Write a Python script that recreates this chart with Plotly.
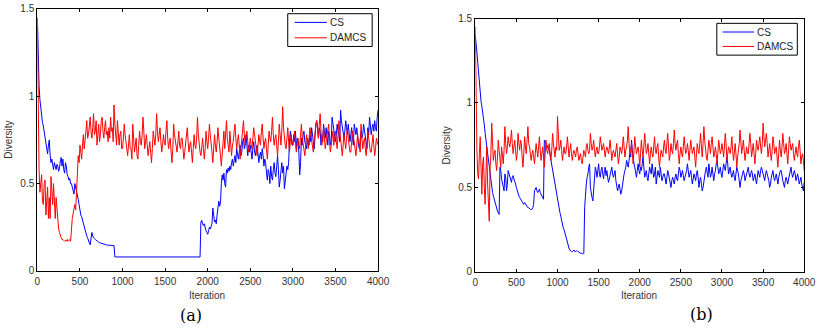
import plotly.graph_objects as go

# iteration grid (every 10 iterations, 0..4000)
iterations = list(range(0, 4001, 10))

cs_a = [
    1.45, 1.20, 1.06, 0.98, 0.92, 0.88, 0.85, 0.83, 0.80, 0.77, 0.74, 0.70, 0.67, 0.72, 0.75, 0.66, 0.62, 0.64, 0.60, 0.58,
    0.62, 0.59, 0.58, 0.61, 0.60, 0.57, 0.59, 0.63, 0.65, 0.60, 0.64, 0.58, 0.56, 0.62, 0.60, 0.55, 0.54, 0.52, 0.53, 0.50,
    0.50, 0.48, 0.46, 0.44, 0.50, 0.48, 0.45, 0.43, 0.41, 0.38, 0.34, 0.32, 0.31, 0.29, 0.27, 0.25, 0.23, 0.22, 0.20, 0.19,
    0.17, 0.16, 0.15, 0.21, 0.22, 0.20, 0.19, 0.185, 0.18, 0.175, 0.17, 0.168, 0.165, 0.162, 0.16, 0.158, 0.155, 0.153, 0.152, 0.15,
    0.15, 0.149, 0.148, 0.148, 0.147, 0.147, 0.146, 0.146, 0.145, 0.145, 0.145, 0.08, 0.08, 0.08, 0.08, 0.08, 0.08, 0.08, 0.08, 0.08,
    0.08, 0.08, 0.08, 0.08, 0.08, 0.08, 0.08, 0.08, 0.08, 0.08, 0.08, 0.08, 0.08, 0.08, 0.08, 0.08, 0.08, 0.08, 0.08, 0.08,
    0.08, 0.08, 0.08, 0.08, 0.08, 0.08, 0.08, 0.08, 0.08, 0.08, 0.08, 0.08, 0.08, 0.08, 0.08, 0.08, 0.08, 0.08, 0.08, 0.08,
    0.08, 0.08, 0.08, 0.08, 0.08, 0.08, 0.08, 0.08, 0.08, 0.08, 0.08, 0.08, 0.08, 0.08, 0.08, 0.08, 0.08, 0.08, 0.08, 0.08,
    0.08, 0.08, 0.08, 0.08, 0.08, 0.08, 0.08, 0.08, 0.08, 0.08, 0.08, 0.08, 0.08, 0.08, 0.08, 0.08, 0.08, 0.08, 0.08, 0.08,
    0.08, 0.08, 0.08, 0.08, 0.08, 0.08, 0.08, 0.08, 0.08, 0.08, 0.08, 0.08, 0.28, 0.29, 0.27, 0.26, 0.27, 0.24, 0.23, 0.22,
    0.21, 0.23, 0.25, 0.24, 0.26, 0.27, 0.36, 0.30, 0.28, 0.29, 0.27, 0.32, 0.38, 0.40, 0.37, 0.39, 0.50, 0.55, 0.52, 0.56,
    0.50, 0.48, 0.58, 0.56, 0.59, 0.57, 0.60, 0.58, 0.62, 0.64, 0.60, 0.63, 0.66, 0.62, 0.70, 0.67, 0.64, 0.68, 0.72, 0.66,
    0.68, 0.74, 0.76, 0.70, 0.72, 0.78, 0.70, 0.66, 0.72, 0.68, 0.72, 0.66, 0.64, 0.70, 0.74, 0.68, 0.66, 0.70, 0.72, 0.67,
    0.62, 0.66, 0.68, 0.64, 0.70, 0.66, 0.60, 0.64, 0.62, 0.56, 0.52, 0.58, 0.56, 0.50, 0.60, 0.54, 0.52, 0.58, 0.62, 0.56,
    0.54, 0.60, 0.66, 0.58, 0.48, 0.52, 0.58, 0.62, 0.56, 0.60, 0.47, 0.52, 0.56, 0.60, 0.58, 0.62, 0.74, 0.80, 0.76, 0.72,
    0.72, 0.78, 0.74, 0.80, 0.70, 0.76, 0.74, 0.68, 0.55, 0.62, 0.76, 0.72, 0.78, 0.80, 0.74, 0.72, 0.70, 0.76, 0.74, 0.72,
    0.78, 0.74, 0.82, 0.76, 0.74, 0.70, 0.80, 0.84, 0.86, 0.78, 0.76, 0.82, 0.80, 0.72, 0.78, 0.74, 0.84, 0.80, 0.76, 0.82,
    0.76, 0.72, 0.80, 0.78, 0.72, 0.74, 0.88, 0.84, 0.80, 0.76, 0.74, 0.78, 0.84, 0.80, 0.78, 0.74, 0.92, 0.86, 0.82, 0.78,
    0.76, 0.80, 0.86, 0.82, 0.78, 0.84, 0.80, 0.74, 0.78, 0.82, 0.76, 0.72, 0.84, 0.80, 0.78, 0.82, 0.76, 0.72, 0.70, 0.74,
    0.80, 0.76, 0.78, 0.84, 0.80, 0.78, 0.74, 0.70, 0.82, 0.78, 0.88, 0.84, 0.78, 0.82, 0.84, 0.80, 0.86, 0.82, 0.80, 0.88,
    0.92,
]

damcs_a = [
    1.40, 0.70, 0.58, 0.45, 0.52, 0.55, 0.40, 0.38, 0.50, 0.52, 0.32, 0.44, 0.48, 0.30, 0.42, 0.30, 0.54, 0.46, 0.38, 0.50,
    0.36, 0.30, 0.42, 0.34, 0.26, 0.24, 0.22, 0.20, 0.19, 0.18, 0.18, 0.175, 0.17, 0.175, 0.17, 0.18, 0.17, 0.175, 0.18, 0.17,
    0.27, 0.30, 0.33, 0.36, 0.38, 0.35, 0.46, 0.52, 0.66, 0.62, 0.72, 0.68, 0.64, 0.72, 0.78, 0.70, 0.74, 0.80, 0.86, 0.76,
    0.78, 0.84, 0.88, 0.80, 0.76, 0.82, 0.90, 0.78, 0.80, 0.86, 0.72, 0.78, 0.84, 0.74, 0.78, 0.86, 0.88, 0.80, 0.76, 0.82,
    0.86, 0.78, 0.80, 0.74, 0.82, 0.76, 0.88, 0.80, 0.82, 0.74, 0.95, 0.84, 0.78, 0.72, 0.86, 0.80, 0.72, 0.78, 0.80, 0.70,
    0.70, 0.76, 0.84, 0.78, 0.74, 0.68, 0.66, 0.72, 0.78, 0.70, 0.70, 0.64, 0.84, 0.76, 0.68, 0.72, 0.76, 0.66, 0.64, 0.72,
    0.80, 0.74, 0.72, 0.78, 0.88, 0.80, 0.70, 0.74, 0.78, 0.72, 0.66, 0.70, 0.74, 0.68, 0.62, 0.70, 0.80, 0.76, 0.72, 0.78,
    0.90, 0.80, 0.74, 0.78, 0.82, 0.74, 0.68, 0.72, 0.78, 0.74, 0.72, 0.80, 0.86, 0.76, 0.70, 0.74, 0.76, 0.68, 0.62, 0.70,
    0.84, 0.78, 0.74, 0.70, 0.68, 0.74, 0.80, 0.72, 0.70, 0.76, 0.76, 0.70, 0.64, 0.68, 0.72, 0.78, 0.82, 0.74, 0.68, 0.72,
    0.74, 0.68, 0.62, 0.70, 0.78, 0.72, 0.70, 0.76, 0.88, 0.78, 0.72, 0.68, 0.66, 0.72, 0.76, 0.70, 0.64, 0.70, 0.80, 0.74,
    0.70, 0.76, 0.84, 0.78, 0.74, 0.68, 0.62, 0.70, 0.78, 0.72, 0.68, 0.74, 0.82, 0.76, 0.72, 0.66, 0.60, 0.68, 0.76, 0.80,
    0.70, 0.78, 0.86, 0.76, 0.72, 0.68, 0.80, 0.74, 0.66, 0.72, 0.74, 0.80, 0.84, 0.76, 0.70, 0.74, 0.78, 0.72, 0.64, 0.70,
    0.76, 0.80, 0.86, 0.78, 0.72, 0.76, 0.80, 0.74, 0.68, 0.72, 0.76, 0.72, 0.70, 0.76, 0.82, 0.78, 0.74, 0.70, 0.66, 0.72,
    0.78, 0.74, 0.72, 0.80, 0.84, 0.76, 0.70, 0.74, 0.76, 0.70, 0.64, 0.72, 0.80, 0.76, 0.74, 0.80, 0.88, 0.78, 0.72, 0.76,
    0.78, 0.72, 0.66, 0.74, 0.84, 0.78, 0.72, 0.80, 0.94, 0.82, 0.76, 0.72, 0.70, 0.76, 0.82, 0.74, 0.68, 0.74, 0.78, 0.74,
    0.72, 0.76, 0.80, 0.74, 0.68, 0.72, 0.76, 0.72, 0.70, 0.78, 0.84, 0.76, 0.72, 0.68, 0.66, 0.72, 0.78, 0.74, 0.70, 0.76,
    0.82, 0.78, 0.74, 0.70, 0.68, 0.74, 0.80, 0.84, 0.86, 0.80, 0.76, 0.84, 0.90, 0.80, 0.72, 0.76, 0.82, 0.76, 0.70, 0.74,
    0.78, 0.82, 0.84, 0.74, 0.68, 0.72, 0.76, 0.80, 0.72, 0.76, 0.80, 0.74, 0.70, 0.78, 0.86, 0.80, 0.74, 0.70, 0.66, 0.72,
    0.78, 0.74, 0.70, 0.76, 0.82, 0.76, 0.72, 0.68, 0.68, 0.74, 0.80, 0.76, 0.74, 0.70, 0.66, 0.72, 0.78, 0.74, 0.72, 0.68,
    0.84, 0.76, 0.70, 0.74, 0.76, 0.70, 0.66, 0.72, 0.80, 0.76, 0.72, 0.68, 0.68, 0.74, 0.78, 0.72, 0.66, 0.70, 0.76, 0.74,
    0.72,
]

cs_b = [
    1.40, 1.36, 1.30, 1.24, 1.18, 1.10, 1.05, 1.01, 0.98, 0.95, 0.92, 0.87, 0.82, 0.78, 0.74, 0.70, 0.66, 0.62, 0.57, 0.53,
    0.50, 0.47, 0.45, 0.43, 0.41, 0.39, 0.38, 0.36, 0.35, 0.34, 0.62, 0.60, 0.55, 0.52, 0.50, 0.48, 0.58, 0.56, 0.48, 0.52,
    0.60, 0.58, 0.56, 0.54, 0.53, 0.56, 0.57, 0.55, 0.54, 0.52, 0.50, 0.48, 0.46, 0.45, 0.44, 0.43, 0.42, 0.41, 0.40, 0.40,
    0.41, 0.40, 0.39, 0.39, 0.38, 0.38, 0.37, 0.37, 0.37, 0.37, 0.38, 0.40, 0.48, 0.49, 0.50, 0.48, 0.47, 0.48, 0.49, 0.47,
    0.46, 0.45, 0.44, 0.43, 0.78, 0.77, 0.76, 0.75, 0.74, 0.73, 0.72, 0.69, 0.66, 0.63, 0.60, 0.57, 0.54, 0.51, 0.48, 0.45,
    0.42, 0.40, 0.38, 0.35, 0.33, 0.30, 0.28, 0.26, 0.25, 0.23, 0.21, 0.19, 0.17, 0.155, 0.14, 0.13, 0.12, 0.12, 0.12, 0.125,
    0.13, 0.12, 0.12, 0.125, 0.125, 0.12, 0.115, 0.115, 0.11, 0.11, 0.11, 0.105, 0.11, 0.38, 0.48, 0.52, 0.56, 0.58, 0.62, 0.64,
    0.50, 0.46, 0.44, 0.42, 0.50, 0.58, 0.62, 0.60, 0.56, 0.60, 0.64, 0.58, 0.56, 0.60, 0.62, 0.58, 0.55, 0.60, 0.62, 0.57,
    0.60, 0.56, 0.53, 0.55, 0.58, 0.60, 0.62, 0.58, 0.56, 0.58, 0.60, 0.54, 0.50, 0.48, 0.50, 0.52, 0.49, 0.46, 0.48, 0.52,
    0.54, 0.58, 0.60, 0.62, 0.66, 0.64, 0.62, 0.66, 0.70, 0.68, 0.78, 0.72, 0.66, 0.64, 0.62, 0.58, 0.56, 0.60, 0.64, 0.60,
    0.58, 0.62, 0.60, 0.64, 0.68, 0.62, 0.56, 0.58, 0.60, 0.56, 0.54, 0.58, 0.62, 0.60, 0.58, 0.64, 0.60, 0.56, 0.58, 0.62,
    0.52, 0.56, 0.60, 0.58, 0.56, 0.62, 0.58, 0.54, 0.56, 0.58, 0.58, 0.54, 0.52, 0.56, 0.60, 0.58, 0.55, 0.52, 0.50, 0.54,
    0.56, 0.54, 0.52, 0.56, 0.58, 0.55, 0.54, 0.58, 0.62, 0.60, 0.56, 0.58, 0.60, 0.57, 0.54, 0.56, 0.58, 0.60, 0.64, 0.60,
    0.56, 0.58, 0.60, 0.56, 0.52, 0.55, 0.58, 0.56, 0.54, 0.58, 0.60, 0.56, 0.50, 0.54, 0.56, 0.52, 0.48, 0.50, 0.54, 0.56,
    0.60, 0.62, 0.58, 0.56, 0.64, 0.60, 0.56, 0.58, 0.62, 0.58, 0.54, 0.58, 0.60, 0.64, 0.66, 0.62, 0.58, 0.60, 0.62, 0.58,
    0.56, 0.60, 0.64, 0.62, 0.60, 0.64, 0.68, 0.64, 0.58, 0.60, 0.62, 0.58, 0.56, 0.58, 0.60, 0.56, 0.54, 0.58, 0.62, 0.60,
    0.58, 0.54, 0.50, 0.54, 0.56, 0.58, 0.60, 0.58, 0.54, 0.56, 0.58, 0.60, 0.62, 0.58, 0.56, 0.58, 0.60, 0.58, 0.54, 0.56,
    0.58, 0.55, 0.52, 0.56, 0.60, 0.58, 0.56, 0.60, 0.62, 0.60, 0.58, 0.56, 0.54, 0.58, 0.60, 0.58, 0.56, 0.54, 0.50, 0.52,
    0.56, 0.58, 0.60, 0.56, 0.54, 0.56, 0.58, 0.55, 0.52, 0.56, 0.58, 0.60, 0.60, 0.56, 0.54, 0.52, 0.50, 0.54, 0.56, 0.54,
    0.52, 0.55, 0.58, 0.60, 0.62, 0.58, 0.56, 0.58, 0.60, 0.58, 0.54, 0.56, 0.58, 0.55, 0.52, 0.54, 0.56, 0.52, 0.50, 0.48,
    0.53,
]

damcs_b = [
    1.45, 0.90, 0.72, 0.58, 0.55, 0.70, 0.80, 0.62, 0.46, 0.64, 0.68, 0.50, 0.40, 0.58, 0.74, 0.52, 0.36, 0.30, 0.62, 0.70,
    0.88, 0.74, 0.66, 0.70, 0.72, 0.64, 0.60, 0.68, 0.78, 0.72, 0.68, 0.62, 0.74, 0.70, 0.64, 0.72, 0.86, 0.76, 0.70, 0.74,
    0.80, 0.76, 0.74, 0.78, 0.84, 0.76, 0.70, 0.74, 0.78, 0.72, 0.66, 0.70, 0.82, 0.76, 0.72, 0.78, 0.76, 0.68, 0.62, 0.70,
    0.80, 0.74, 0.70, 0.78, 0.86, 0.76, 0.74, 0.70, 0.66, 0.70, 0.72, 0.68, 0.64, 0.70, 0.76, 0.72, 0.68, 0.74, 0.80, 0.72,
    0.66, 0.70, 0.74, 0.68, 0.62, 0.70, 0.78, 0.72, 0.70, 0.74, 0.76, 0.70, 0.66, 0.72, 0.82, 0.76, 0.70, 0.68, 0.74, 0.72,
    0.92, 0.80, 0.72, 0.74, 0.78, 0.72, 0.66, 0.70, 0.74, 0.70, 0.70, 0.74, 0.80, 0.74, 0.68, 0.72, 0.76, 0.70, 0.66, 0.70,
    0.72, 0.70, 0.68, 0.72, 0.74, 0.70, 0.66, 0.68, 0.70, 0.66, 0.64, 0.68, 0.72, 0.70, 0.68, 0.74, 0.76, 0.72, 0.70, 0.72,
    0.82, 0.76, 0.72, 0.74, 0.78, 0.72, 0.68, 0.72, 0.74, 0.70, 0.70, 0.74, 0.80, 0.76, 0.72, 0.74, 0.76, 0.72, 0.68, 0.72,
    0.74, 0.72, 0.70, 0.74, 0.78, 0.72, 0.66, 0.70, 0.72, 0.70, 0.68, 0.72, 0.76, 0.70, 0.64, 0.68, 0.74, 0.72, 0.70, 0.74,
    0.80, 0.74, 0.68, 0.72, 0.74, 0.78, 0.86, 0.76, 0.70, 0.72, 0.76, 0.70, 0.64, 0.72, 0.80, 0.74, 0.70, 0.72, 0.74, 0.70,
    0.62, 0.70, 0.78, 0.72, 0.68, 0.74, 0.82, 0.76, 0.70, 0.72, 0.76, 0.70, 0.64, 0.70, 0.74, 0.70, 0.68, 0.74, 0.80, 0.72,
    0.70, 0.74, 0.76, 0.68, 0.62, 0.68, 0.72, 0.70, 0.68, 0.74, 0.78, 0.72, 0.70, 0.76, 0.82, 0.74, 0.66, 0.70, 0.76, 0.72,
    0.70, 0.76, 0.84, 0.76, 0.72, 0.76, 0.78, 0.70, 0.64, 0.70, 0.74, 0.70, 0.68, 0.74, 0.80, 0.74, 0.70, 0.72, 0.76, 0.72,
    0.66, 0.72, 0.78, 0.74, 0.70, 0.72, 0.74, 0.68, 0.62, 0.70, 0.76, 0.72, 0.70, 0.76, 0.82, 0.74, 0.68, 0.76, 0.86, 0.78,
    0.72, 0.68, 0.66, 0.72, 0.78, 0.74, 0.70, 0.76, 0.80, 0.74, 0.68, 0.70, 0.74, 0.70, 0.64, 0.70, 0.78, 0.74, 0.70, 0.72,
    0.76, 0.72, 0.68, 0.74, 0.82, 0.76, 0.66, 0.70, 0.74, 0.72, 0.70, 0.74, 0.80, 0.72, 0.66, 0.70, 0.76, 0.70, 0.62, 0.68,
    0.72, 0.76, 0.84, 0.78, 0.70, 0.74, 0.78, 0.72, 0.66, 0.70, 0.74, 0.70, 0.70, 0.76, 0.82, 0.76, 0.68, 0.72, 0.76, 0.70,
    0.64, 0.70, 0.78, 0.74, 0.72, 0.76, 0.80, 0.74, 0.70, 0.76, 0.88, 0.80, 0.74, 0.78, 0.82, 0.76, 0.68, 0.72, 0.76, 0.70,
    0.66, 0.72, 0.80, 0.76, 0.70, 0.72, 0.74, 0.68, 0.62, 0.70, 0.78, 0.72, 0.68, 0.74, 0.82, 0.76, 0.70, 0.72, 0.76, 0.70,
    0.64, 0.72, 0.80, 0.76, 0.72, 0.74, 0.76, 0.70, 0.66, 0.70, 0.74, 0.70, 0.68, 0.74, 0.78, 0.72, 0.64, 0.68, 0.70, 0.66,
    0.60,
]

for s in (cs_a, damcs_a, cs_b, damcs_b):
    assert len(s) == len(iterations), len(s)

series_names = ["CS", "DAMCS"]
x_ticks = [0, 500, 1000, 1500, 2000, 2500, 3000, 3500, 4000]
y_ticks = [0, 0.5, 1, 1.5]
y_tick_labels = ["0", "0.5", "1", "1.5"]
x_title = "Iteration"
y_title = "Diversity"
captions = ["(a)", "(b)"]

BLUE = "#0000FF"
RED = "#FF0000"
FONT = "Liberation Sans"
TXT = "#333333"
W, H = 827, 328

def px(x):
    return x / W

def py(y):
    return (H - y) / H

fig = go.Figure()
fig.add_trace(go.Scatter(x=iterations, y=cs_a, mode="lines", name=series_names[0],
                         line=dict(color=BLUE, width=1), xaxis="x", yaxis="y"))
fig.add_trace(go.Scatter(x=iterations, y=damcs_a, mode="lines", name=series_names[1],
                         line=dict(color=RED, width=1), xaxis="x", yaxis="y"))
fig.add_trace(go.Scatter(x=iterations, y=cs_b, mode="lines", name=series_names[0],
                         line=dict(color=BLUE, width=1), xaxis="x2", yaxis="y2"))
fig.add_trace(go.Scatter(x=iterations, y=damcs_b, mode="lines", name=series_names[1],
                         line=dict(color=RED, width=1), xaxis="x2", yaxis="y2"))

axis_common = dict(
    showline=True, linecolor="black", linewidth=1.2, mirror="allticks",
    ticks="inside", ticklen=3, tickwidth=1, tickcolor="black",
    showgrid=False, zeroline=False,
    tickfont=dict(family=FONT, size=10, color=TXT),
)

shapes = []
annotations = []

# legends (MATLAB style boxes)
def add_legend(x0, y0, x1, y1, lx0, lx1, ly1, ly2, tx):
    shapes.append(dict(type="rect", xref="paper", yref="paper",
                       x0=px(x0), x1=px(x1), y0=py(y1), y1=py(y0),
                       line=dict(color="black", width=1), fillcolor="white", layer="above"))
    shapes.append(dict(type="line", xref="paper", yref="paper",
                       x0=px(lx0), x1=px(lx1), y0=py(ly1), y1=py(ly1),
                       line=dict(color=BLUE, width=1), layer="above"))
    shapes.append(dict(type="line", xref="paper", yref="paper",
                       x0=px(lx0), x1=px(lx1), y0=py(ly2), y1=py(ly2),
                       line=dict(color=RED, width=1), layer="above"))
    for name, yy in zip(series_names, (ly1, ly2)):
        annotations.append(dict(text=name, x=px(tx), y=py(yy), xref="paper", yref="paper",
                                xanchor="left", yanchor="middle", showarrow=False,
                                font=dict(family=FONT, size=10, color="#222222")))

add_legend(290, 8, 376, 42, 297, 330, 17, 33, 331)
add_legend(727, 18, 809, 51, 733, 765, 27, 42, 766)

# axis titles
for cx, cy in ((208, 300), (648, 300)):
    annotations.append(dict(text=x_title, x=px(cx), y=py(cy), xref="paper", yref="paper",
                            xanchor="center", yanchor="middle", showarrow=False,
                            font=dict(family=FONT, size=10, color=TXT)))
for cx, cy in ((6, 139), (452, 145)):
    annotations.append(dict(text=y_title, x=px(cx), y=py(cy), xref="paper", yref="paper",
                            xanchor="center", yanchor="middle", showarrow=False, textangle=-90,
                            font=dict(family=FONT, size=10, color=TXT)))
# captions
for cap, cx, cy in zip(captions, (191, 711), (321, 320)):
    annotations.append(dict(text=cap, x=px(cx), y=py(cy), xref="paper", yref="paper",
                            xanchor="center", yanchor="middle", showarrow=False,
                            font=dict(family="DejaVu Serif", size=16, color="black")))

fig.update_layout(
    width=W, height=H,
    margin=dict(l=0, r=0, t=0, b=0),
    paper_bgcolor="white", plot_bgcolor="white",
    showlegend=False,
    xaxis=dict(domain=[px(35), px(382)], range=[0, 4000], tickvals=x_ticks, anchor="y",
               ticklabelstandoff=1, **axis_common),
    yaxis=dict(domain=[py(275), py(3)], range=[0, 1.5], tickvals=y_ticks, ticktext=y_tick_labels,
               anchor="x", **axis_common),
    xaxis2=dict(domain=[px(481), px(816)], range=[0, 4000], tickvals=x_ticks, anchor="y2",
                ticklabelstandoff=1, **axis_common),
    yaxis2=dict(domain=[py(276), py(13)], range=[0, 1.5], tickvals=y_ticks, ticktext=y_tick_labels,
                anchor="x2", **axis_common),
    shapes=shapes,
    annotations=annotations,
)

fig.write_html("out.html")
